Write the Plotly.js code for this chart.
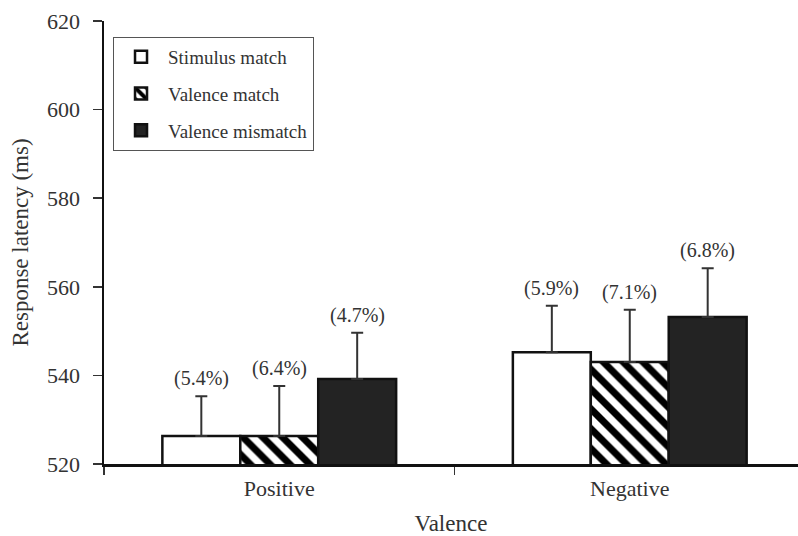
<!DOCTYPE html>
<html>
<head>
<meta charset="utf-8">
<script src="https://cdn.plot.ly/plotly-3.0.1.min.js"></script>
<style>html,body{margin:0;padding:0;background:#fff;}#chart{width:798px;height:536px;}</style>
</head>
<body>
<div id="chart"></div>
<script>
const categories = ['Positive', 'Negative'];
const seriesNames = ['Stimulus match', 'Valence match', 'Valence mismatch'];
const stimulusMatch = [526.3, 545.2];
const valenceMatch = [526.3, 543.0];
const valenceMismatch = [539.2, 553.2];
const stimulusErr = [9.0, 10.5];
const valenceErr = [11.3, 11.8];
const mismatchErr = [10.4, 11.0];
const stimulusErrLabels = ['(5.4%)', '(5.9%)'];
const valenceErrLabels = ['(6.4%)', '(7.1%)'];
const mismatchErrLabels = ['(4.7%)', '(6.8%)'];

const FONT = 'Liberation Serif, Times New Roman, serif';
const errStyle = (arr) => ({type: 'data', symmetric: false, array: arr, arrayminus: arr.map(() => 0),
  color: '#333', thickness: 2, width: 6});

const traces = [
  {type: 'bar', name: seriesNames[0], x: categories, y: stimulusMatch, legendgroup: 'a',
   marker: {color: '#fff', line: {color: '#111', width: 2.5}}, error_y: errStyle(stimulusErr)},
  {type: 'bar', name: seriesNames[1], x: categories, y: valenceMatch, legendgroup: 'b',
   marker: {color: '#fff', line: {color: '#111', width: 2.5},
     pattern: {shape: '\\', fgcolor: '#000', bgcolor: '#fff', size: 14, solidity: 0.5}},
   error_y: errStyle(valenceErr)},
  {type: 'bar', name: seriesNames[2], x: categories, y: valenceMismatch, legendgroup: 'c',
   marker: {color: '#232323', line: {color: '#111', width: 2.5}}, error_y: errStyle(mismatchErr)}
];

const bargap = 0.333;
const barW = (1 - bargap) / 3;
const annotations = [];
[[stimulusMatch, stimulusErr, stimulusErrLabels], [valenceMatch, valenceErr, valenceErrLabels],
 [valenceMismatch, mismatchErr, mismatchErrLabels]].forEach((s, j) => {
  categories.forEach((c, i) => {
    annotations.push({x: i + (j - 1) * barW, y: s[0][i] + s[1][i], xref: 'x', yref: 'y',
      text: s[2][i], showarrow: false, yanchor: 'bottom', yshift: 4,
      font: {family: FONT, size: 20, color: '#333'}});
  });
});

const layout = {
  width: 798, height: 536,
  margin: {l: 104, r: 0, t: 21, b: 72},
  paper_bgcolor: '#fff', plot_bgcolor: '#fff',
  font: {family: FONT, size: 22, color: '#333'},
  barmode: 'group', bargap: bargap, bargroupgap: 0,
  showlegend: true,
  legend: {x: 0.013, y: 0.964, xanchor: 'left', yanchor: 'top',
    bordercolor: '#555', borderwidth: 1, bgcolor: '#fff', itemwidth: 44,
    font: {family: FONT, size: 19, color: '#333'}, tracegroupgap: 9, traceorder: 'grouped'},
  xaxis: {type: 'category', range: [-0.5, 1.48], showline: true, linecolor: '#111', linewidth: 2.5,
    ticks: 'outside', tickson: 'boundaries', ticklen: 8, tickcolor: '#333', tickwidth: 1.5,
    showgrid: false, zeroline: false, tickfont: {family: FONT, size: 22, color: '#333'},
    ticklabelstandoff: 3,
    title: {text: 'Valence', font: {family: FONT, size: 23, color: '#333'}, standoff: 20}},
  yaxis: {range: [520, 620], dtick: 20, showline: true, linecolor: '#111', linewidth: 2.5,
    ticks: 'outside', ticklen: 9, tickcolor: '#333', tickwidth: 1.5, showgrid: false, zeroline: false,
    tickfont: {family: FONT, size: 22, color: '#333'}, ticklabelstandoff: 8,
    title: {text: 'Response latency (ms)', font: {family: FONT, size: 23, color: '#333'}, standoff: 12}},
  annotations: annotations
};

Plotly.newPlot('chart', traces, layout, {displayModeBar: false, staticPlot: true});
</script>
</body>
</html>
